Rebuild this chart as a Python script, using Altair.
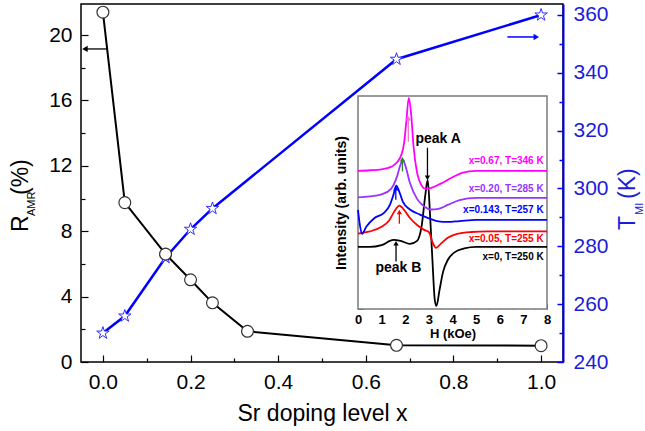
import altair as alt
import pandas as pd

FONT = "Liberation Sans"

# ---------------- main panel data ----------------
sr_x_amr = [0.0, 0.05, 0.143, 0.2, 0.25, 0.33, 0.67, 1.0]
r_amr = [21.4, 9.75, 6.6, 5.03, 3.62, 1.88, 1.02, 1.0]
sr_x_tmi = [0.0, 0.05, 0.143, 0.2, 0.25, 0.67, 1.0]
t_mi = [250.0, 255.9, 276.1, 285.9, 293.1, 344.7, 360.0]

x_tick_major = [0.0, 0.2, 0.4, 0.6, 0.8, 1.0]
x_tick_minor = [0.1, 0.3, 0.5, 0.7, 0.9]
r_tick_major = [0, 4, 8, 12, 16, 20]
r_tick_minor = [2, 6, 10, 14, 18]
t_tick_major = [240, 260, 280, 300, 320, 340, 360]
t_tick_minor = [250, 270, 290, 310, 330, 350]

# axis-indicator arrows (from -> to)
arrow_r_x = [0.009, -0.041]
arrow_r_y = 19.15
arrow_t_x = [0.923, 0.989]
arrow_t_y = 352.4

# ---------------- inset data ----------------
inset_series = ["x=0", "x=0.05", "x=0.143", "x=0.20", "x=0.67"]
h_x0 = [0, 0.5, 1.0, 1.5, 1.8, 2.2, 2.5, 2.7, 2.85, 2.95, 3.05, 3.15, 3.25, 3.32,
        3.45, 3.6, 3.8, 4.1, 4.5, 5.0, 6.0, 7.0, 8.0]
i_x0 = [2.04, 2.04, 2.10, 2.27, 2.24, 2.14, 2.24, 2.76, 3.75, 4.24, 3.09, 1.61, 0.30, 0.10,
        0.62, 1.22, 1.61, 1.87, 1.99, 2.04, 2.04, 2.04, 2.04]
h_x005 = [0, 0.5, 1.0, 1.3, 1.55, 1.75, 1.95, 2.2, 2.5, 2.8, 3.0, 3.15, 3.3, 3.5, 3.8,
          4.2, 4.8, 5.5, 6.5, 8.0]
i_x005 = [2.48, 2.55, 2.70, 2.89, 3.22, 3.40, 3.26, 2.99, 2.76, 2.60, 2.53, 2.20, 2.01,
          2.14, 2.34, 2.47, 2.53, 2.55, 2.55, 2.55]
h_x0143 = [0, 0.08, 0.17, 0.35, 0.7, 1.1, 1.35, 1.5, 1.62, 1.75, 1.9, 2.2, 2.6, 3.0,
           3.4, 3.8, 4.3, 5.0, 6.0, 7.0, 8.0]
i_x0143 = [3.26, 2.76, 2.47, 2.70, 2.99, 3.16, 3.42, 3.75, 4.05, 3.85, 3.52, 3.27, 3.11,
           2.98, 2.88, 2.86, 2.89, 2.93, 2.93, 2.93, 2.93]
h_x020 = [0, 0.5, 1.0, 1.4, 1.65, 1.8, 1.9, 2.0, 2.2, 2.5, 2.8, 3.1, 3.4, 3.8, 4.3,
          5.0, 6.0, 7.0, 8.0]
i_x020 = [3.67, 3.70, 3.77, 3.95, 4.35, 4.75, 4.90, 4.72, 4.14, 3.62, 3.37, 3.27, 3.29,
          3.42, 3.58, 3.65, 3.65, 3.65, 3.65]
h_x067 = [0, 0.5, 1.0, 1.4, 1.65, 1.85, 1.95, 2.05, 2.15, 2.25, 2.35, 2.5, 2.65, 2.85,
          3.1, 3.5, 4.0, 4.4, 5.0, 6.0, 7.0, 8.0]
i_x067 = [4.54, 4.56, 4.59, 4.67, 4.82, 5.10, 5.45, 6.20, 6.94, 6.40, 5.35, 4.48, 4.12,
          3.95, 3.98, 4.12, 4.33, 4.47, 4.54, 4.54, 4.54, 4.54]

inset_labels = ["x=0, T=250 K", "x=0.05, T=255 K", "x=0.143, T=257 K",
                "x=0.20, T=285 K", "x=0.67, T=346 K"]
inset_label_h = [7.86, 7.86, 7.86, 7.86, 7.86]
inset_label_i = [1.70, 2.30, 3.25, 3.95, 4.85]

peak_text = ["peak A", "peak B"]
peak_h = [3.39, 1.71]
peak_i = [5.58, 1.34]

inset_arrow_h = [2.94, 1.61, 1.75, 1.60, 1.88, 2.13]
inset_arrow_from = [5.30, 1.56, 2.80, 3.59, 4.52, 5.50]
inset_arrow_to = [4.31, 2.16, 3.19, 3.97, 4.92, 6.27]

h_tick_major = [0, 1, 2, 3, 4, 5, 6, 7, 8]
h_tick_minor = [0.5, 1.5, 2.5, 3.5, 4.5, 5.5, 6.5, 7.5]
i_tick_major = [0, 1, 2, 3, 4, 5, 6, 7]
i_tick_minor = [0.5, 1.5, 2.5, 3.5, 4.5, 5.5, 6.5]

# ---------------- layout / style ----------------
W, H = 482, 358
X_DOM = [-0.05, 1.05]
R_DOM = [0, 21.9]
T_DOM = [240, 363.8]
H_DOM = [0, 8]
I_DOM = [0, 7]
INSET_X = [277, 466]
INSET_Y = [305, 92]
BLUE = "#0000ff"
BLUE_TXT = "#1c1cd8"
GRAY = "#666666"
inset_colors = ["black", "#ff0000", "#0000ff", "#9933ff", "#ff00ff"]
arrow_colors = ["black", "black", "#ff0000", "#0000ff", "#1f8f1f", "#ff70c8"]
STAR = ("M0,-1L0.223,-0.307L0.951,-0.309L0.361,0.117L0.588,0.809L0,0.38"
        "L-0.588,0.809L-0.361,0.117L-0.951,-0.309L-0.223,-0.307Z")


def sx():
    return alt.Scale(domain=X_DOM, nice=False, zero=False)


def sr():
    return alt.Scale(domain=R_DOM, nice=False, zero=False)


def st():
    return alt.Scale(domain=T_DOM, nice=False, zero=False)


def sh():
    return alt.Scale(domain=H_DOM, range=INSET_X, nice=False, zero=False)


def si():
    return alt.Scale(domain=I_DOM, range=INSET_Y, nice=False, zero=False)


def tick_axis(orient, offset, values, size, color, width=1.2):
    return alt.Axis(orient=orient, offset=offset, values=values, labels=False, domain=False,
                    grid=False, title=None, ticks=True, tickColor=color, tickWidth=width,
                    tickSize=size, minExtent=0, maxExtent=0)


ax_x_main = alt.Axis(orient="bottom", values=x_tick_major, format=".1f", labelFontSize=21,
                     labelColor="black", labelPadding=9, labelFlush=False, ticks=False,
                     tickSize=0, domain=False, grid=False, title="Sr doping level x",
                     titleFontSize=23, titleFontWeight="normal", titleColor="black",
                     titlePadding=10)
ax_r_main = alt.Axis(orient="left", values=r_tick_major, labelFontSize=21, labelColor="black",
                     labelPadding=9, labelFlush=False, ticks=False, tickSize=0, domain=False,
                     grid=False, title=None)
ax_t_main = alt.Axis(orient="right", values=t_tick_major, labelFontSize=21, labelColor=BLUE_TXT,
                     labelPadding=10, labelFlush=False, ticks=False, tickSize=0, domain=True,
                     domainColor=BLUE, domainWidth=2, grid=False, title=None, zindex=1)

ax_x_major = tick_axis("top", -H, x_tick_major, 7, "black")
ax_x_minor = tick_axis("top", -H, x_tick_minor, 4, "black")
ax_r_major = tick_axis("right", -W, r_tick_major, 7, "black")
ax_r_minor = tick_axis("right", -W, r_tick_minor, 4, "black")
ax_t_major = tick_axis("left", -W, t_tick_major, 6, BLUE, 1.5)
ax_t_minor = tick_axis("left", -W, t_tick_minor, 4, BLUE, 1.5)

ax_h_main = alt.Axis(orient="bottom", offset=-(H - INSET_Y[0]), values=h_tick_major,
                     labelFontSize=13, labelFontWeight="bold", labelColor="black",
                     labelPadding=4, labelFlush=False, ticks=False, tickSize=0, domain=False,
                     grid=False, title="H (kOe)", titleFontSize=13, titleFontWeight="bold",
                     titleColor="black", titlePadding=1)
ax_i_main = alt.Axis(orient="left", offset=-INSET_X[0], labels=False, ticks=False, tickSize=0,
                     domain=False, grid=False, minExtent=0, title="Intensity (arb. units)",
                     titleFontSize=14, titleFontWeight="bold", titleColor="black",
                     titlePadding=10)
ax_h_major = tick_axis("top", -INSET_Y[0], h_tick_major, 5, GRAY, 1)
ax_h_minor = tick_axis("top", -INSET_Y[0], h_tick_minor, 3, GRAY, 1)
ax_i_major = tick_axis("right", -(W - INSET_X[0]), i_tick_major, 5, GRAY, 1)
ax_i_minor = tick_axis("right", -(W - INSET_X[0]), i_tick_minor, 3, GRAY, 1)

# ---------------- frames ----------------
df_amr = pd.DataFrame({"x": sr_x_amr, "r": r_amr})
df_tmi = pd.DataFrame({"x": sr_x_tmi, "t": t_mi})

layers = []

black_line = alt.Chart(df_amr).mark_line(color="black", strokeWidth=2).encode(
    x=alt.X("x:Q", scale=sx(), axis=ax_x_main),
    y=alt.Y("r:Q", scale=sr(), axis=ax_r_main))
blue_line = alt.Chart(df_tmi).mark_line(color=BLUE, strokeWidth=2.5).encode(
    x=alt.X("x:Q", scale=sx(), axis=None),
    y=alt.Y("t:Q", scale=st(), axis=ax_t_main))
black_pts = alt.Chart(df_amr).mark_point(shape="circle", fill="white", fillOpacity=1,
                                         stroke="#333333", strokeWidth=1.2, size=140,
                                         opacity=1).encode(
    x=alt.X("x:Q", scale=sx(), axis=ax_x_major),
    y=alt.Y("r:Q", scale=sr(), axis=ax_r_major))
blue_pts = alt.Chart(df_tmi).mark_point(shape=STAR, fill="white", fillOpacity=1,
                                        stroke="#3030ff", strokeWidth=1, size=170,
                                        opacity=1).encode(
    x=alt.X("x:Q", scale=sx(), axis=None),
    y=alt.Y("t:Q", scale=st(), axis=ax_t_major))
layers += [blue_line, blue_pts, black_line, black_pts]

# main arrows
df_ar = pd.DataFrame({"x": [arrow_r_x[0]], "x2": [arrow_r_x[1]], "y": [arrow_r_y]})
df_at = pd.DataFrame({"x": [arrow_t_x[0]], "x2": [arrow_t_x[1]], "y": [arrow_t_y]})
layers.append(alt.Chart(df_ar).mark_rule(color="black", strokeWidth=1.3).encode(
    x=alt.X("x:Q", scale=sx(), axis=ax_x_minor), x2="x2:Q",
    y=alt.Y("y:Q", scale=sr(), axis=ax_r_minor)))
layers.append(alt.Chart(df_ar).mark_point(shape="triangle-left", filled=True, color="black",
                                          size=40, opacity=1).encode(
    x=alt.X("x2:Q", scale=sx(), axis=None),
    y=alt.Y("y:Q", scale=sr(), axis=None)))
layers.append(alt.Chart(df_at).mark_rule(color=BLUE, strokeWidth=1.5).encode(
    x=alt.X("x:Q", scale=sx(), axis=None), x2="x2:Q",
    y=alt.Y("y:Q", scale=st(), axis=ax_t_minor)))
layers.append(alt.Chart(df_at).mark_point(shape="triangle-right", filled=True, color=BLUE,
                                          size=40, opacity=1).encode(
    x=alt.X("x2:Q", scale=sx(), axis=None),
    y=alt.Y("y:Q", scale=st(), axis=None)))

# ---------------- inset ----------------
df_frame = pd.DataFrame({"h0": [H_DOM[0]], "h1": [H_DOM[1]], "i0": [I_DOM[0]], "i1": [I_DOM[1]]})
layers.append(alt.Chart(df_frame).mark_rect(fill="white", stroke="#7a7a7a", strokeWidth=1.5).encode(
    x=alt.X("h0:Q", scale=sh(), axis=None), x2="h1:Q",
    y=alt.Y("i0:Q", scale=si(), axis=None), y2="i1:Q"))

curve_h = [h_x0, h_x005, h_x0143, h_x020, h_x067]
curve_i = [i_x0, i_x005, i_x0143, i_x020, i_x067]
rows = []
for name, hs, iss in zip(inset_series, curve_h, curve_i):
    for hv, iv in zip(hs, iss):
        rows.append({"series": name, "h": hv, "i": iv})
df_curves = pd.DataFrame(rows)
color_enc = alt.Color("series:N", scale=alt.Scale(domain=inset_series, range=inset_colors),
                      legend=None)
layers.append(alt.Chart(df_curves).mark_line(strokeWidth=1.8, interpolate="monotone").encode(
    x=alt.X("h:Q", scale=sh(), axis=ax_h_main),
    y=alt.Y("i:Q", scale=si(), axis=ax_i_main),
    color=color_enc))

df_lab = pd.DataFrame({"series": inset_series, "text": inset_labels,
                       "h": inset_label_h, "i": inset_label_i})
layers.append(alt.Chart(df_lab).mark_text(align="right", baseline="middle", fontSize=10,
                                          fontWeight="bold", font=FONT).encode(
    x=alt.X("h:Q", scale=sh(), axis=ax_h_major),
    y=alt.Y("i:Q", scale=si(), axis=ax_i_major),
    text="text:N", color=color_enc))

df_peak = pd.DataFrame({"text": peak_text, "h": peak_h, "i": peak_i})
layers.append(alt.Chart(df_peak).mark_text(align="center", baseline="middle", fontSize=14,
                                           fontWeight="bold", font=FONT, color="black").encode(
    x=alt.X("h:Q", scale=sh(), axis=ax_h_minor),
    y=alt.Y("i:Q", scale=si(), axis=ax_i_minor),
    text="text:N"))

for hv, i0, i1, col in zip(inset_arrow_h, inset_arrow_from, inset_arrow_to, arrow_colors):
    d = pd.DataFrame({"h": [hv], "i0": [i0], "i1": [i1]})
    layers.append(alt.Chart(d).mark_rule(color=col, strokeWidth=1.3).encode(
        x=alt.X("h:Q", scale=sh(), axis=None),
        y=alt.Y("i0:Q", scale=si(), axis=None), y2="i1:Q"))
    shape = "triangle-up" if i1 > i0 else "triangle-down"
    layers.append(alt.Chart(d).mark_point(shape=shape, filled=True, color=col, size=28,
                                          opacity=1).encode(
        x=alt.X("h:Q", scale=sh(), axis=None),
        y=alt.Y("i1:Q", scale=si(), axis=None)))

# ---------------- axis titles with subscripts ----------------
title_parts = [
    ("R", -60, 228, 23, "black"), ("AMR", -49, 212, 11, "black"), ("(%)", -60, 191, 23, "black"),
    ("T", 547, 226, 23, BLUE_TXT), ("MI", 559, 211, 11, BLUE_TXT), ("(K)", 547, 195, 23, BLUE_TXT),
]
df_one = pd.DataFrame({"k": [0]})
for txt, px, py, fs, col in title_parts:
    layers.append(alt.Chart(df_one).mark_text(text=txt, angle=270, align="left",
                                              baseline="middle", fontSize=fs, font=FONT,
                                              color=col).encode(
        x=alt.value(px), y=alt.value(py)))

chart = alt.layer(*layers).resolve_scale(x="independent", y="independent").properties(
    width=W, height=H,
    autosize=alt.AutoSizeParams(type="none"),
    padding={"left": 81, "top": 4, "right": 82, "bottom": 69},
).configure_view(stroke="black", strokeWidth=1.5).configure_axis(
    grid=False, labelFont=FONT, titleFont=FONT).configure_text(font=FONT)

chart.save("out.html", embed_options={"renderer": "svg", "actions": False})
